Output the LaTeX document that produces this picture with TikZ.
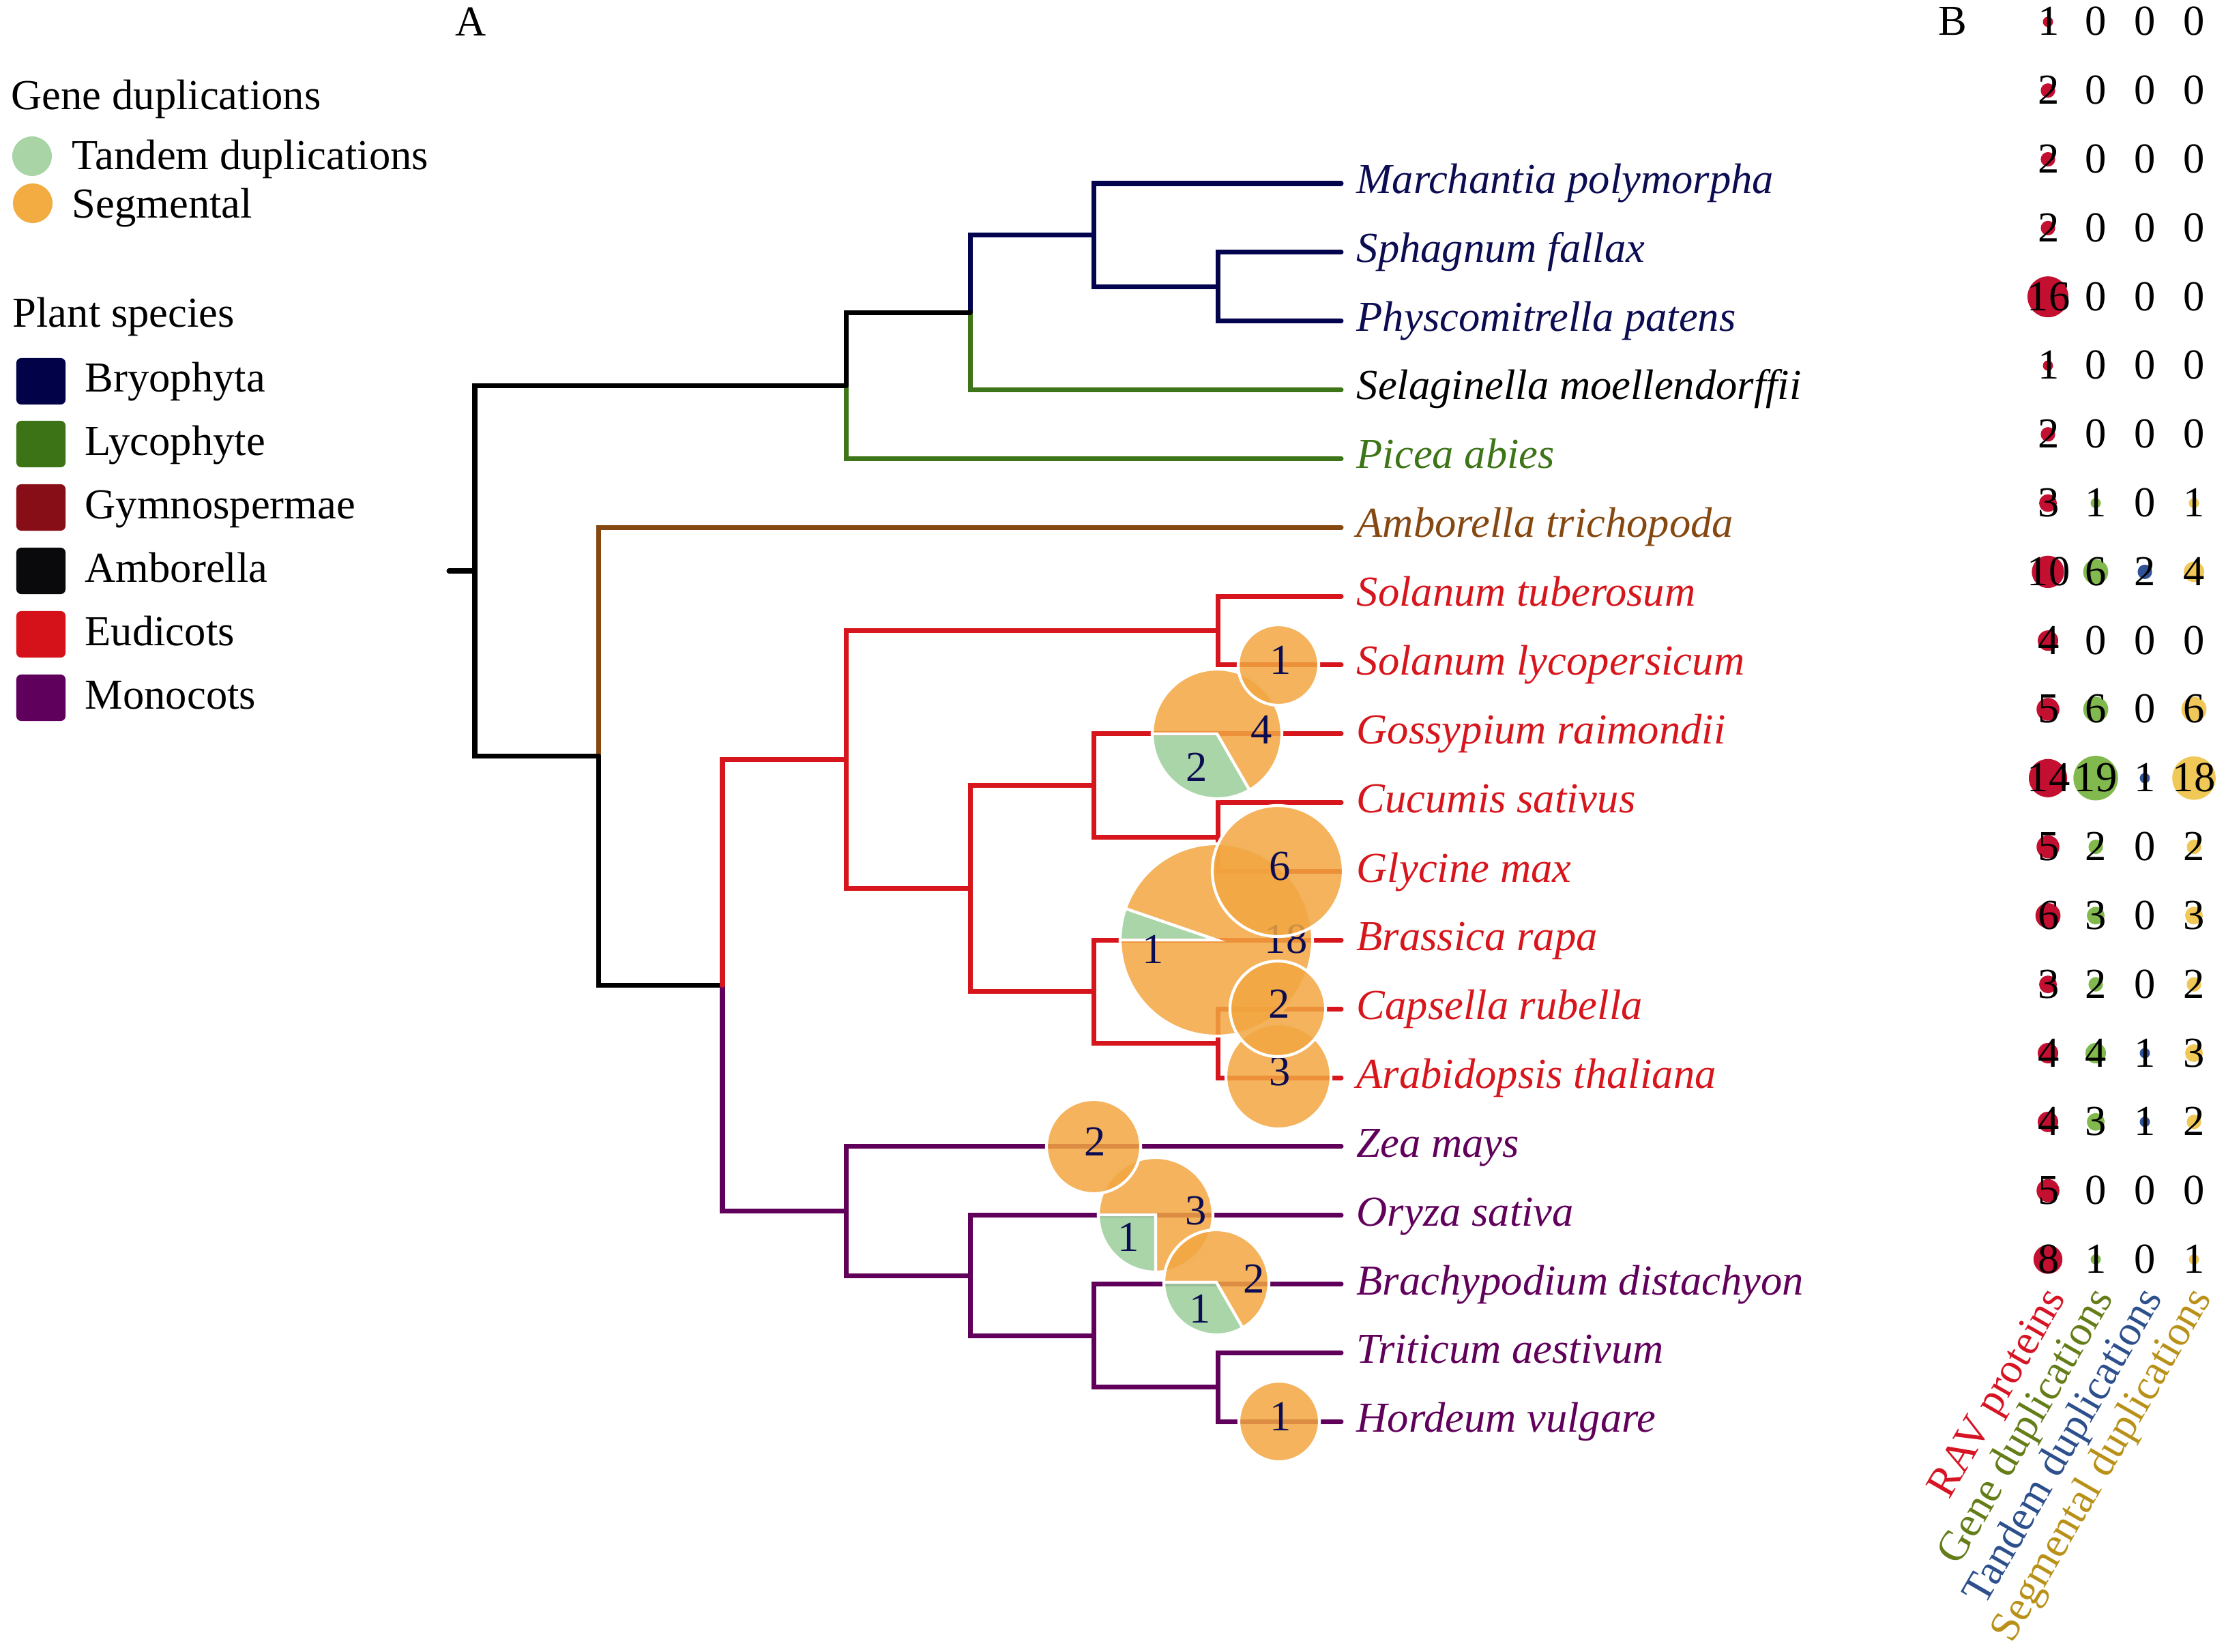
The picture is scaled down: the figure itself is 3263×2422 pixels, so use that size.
\documentclass[tikz,border=0pt]{standalone}
\usepackage{fontspec}
\setmainfont{Liberation Serif}
\definecolor{cnavy}{RGB}{4,4,78}
\definecolor{cgreen}{RGB}{62,117,24}
\definecolor{cbrown}{RGB}{133,72,17}
\definecolor{cred}{RGB}{214,22,28}
\definecolor{cpurple}{RGB}{96,0,90}
\definecolor{tnavy}{RGB}{12,12,82}
\definecolor{pieorange}{RGB}{242,166,64}
\definecolor{pietand}{RGB}{160,208,160}
\definecolor{pietext}{RGB}{12,12,82}
\definecolor{lgbryo}{RGB}{2,2,72}
\definecolor{lglyco}{RGB}{59,115,22}
\definecolor{lggymno}{RGB}{135,14,22}
\definecolor{lgambo}{RGB}{10,10,12}
\definecolor{lgeudi}{RGB}{213,18,26}
\definecolor{lgmono}{RGB}{95,0,92}
\definecolor{lgtand}{RGB}{168,212,166}
\definecolor{lgseg}{RGB}{242,172,66}
\definecolor{bred}{RGB}{195,15,48}
\definecolor{bgreen}{RGB}{130,185,78}
\definecolor{bblue}{RGB}{50,82,150}
\definecolor{byellow}{RGB}{240,200,88}
\definecolor{hred}{RGB}{215,20,35}
\definecolor{hgreen}{RGB}{100,125,25}
\definecolor{hblue}{RGB}{45,80,140}
\definecolor{hgold}{RGB}{185,145,25}
\begin{document}
\begin{tikzpicture}[x=0.01cm,y=-0.01cm,
  every node/.style={inner sep=0pt, font=\fontsize{17.8}{21}\selectfont},
  br/.style={line width=2pt, line cap=round},
  leaflab/.style={anchor=base west, font=\fontsize{17.8}{21}\selectfont\itshape},
  sego/.style={fill=pieorange, fill opacity=0.85, draw=white, line width=1.2pt},
  tand/.style={fill=pietand, fill opacity=0.9, draw=white, line width=1.2pt},
  pnum/.style={text=pietext},
  sqbox/.style={minimum width=0.72cm, minimum height=0.68cm, rounded corners=2pt},
  lgcirc/.style={circle, minimum size=0.58cm},
  lgtext/.style={anchor=base west},
  bnum/.style={anchor=base},
  colhead/.style={anchor=base east, rotate=60}
]
\useasboundingbox (0,0) rectangle (3263,2422);

% ---------- panel labels ----------
\node[anchor=base] (pA) at (690,53) {A};
\node[anchor=base] (pB) at (2862,52) {B};

% ---------- legend ----------
\node[lgtext] (lgGene) at (16,161) {Gene duplications};
\node[lgcirc, fill=lgtand] (lgc1) at (47,229) {};
\node[lgtext] (lgTand) at (105,249) {Tandem duplications};
\node[lgcirc, fill=lgseg] (lgc2) at (48,298) {};
\node[lgtext] (lgSeg) at (105,320) {Segmental};
\node[lgtext] (lgPlant) at (18,480) {Plant species};
\node[sqbox, fill=lgbryo] (sq1) at (60,559) {};
\node[sqbox, fill=lglyco] (sq2) at (60,651) {};
\node[sqbox, fill=lggymno] (sq3) at (60,744) {};
\node[sqbox, fill=lgambo] (sq4) at (60,837) {};
\node[sqbox, fill=lgeudi] (sq5) at (60,930) {};
\node[sqbox, fill=lgmono] (sq6) at (60,1023) {};
\node[lgtext] (lg1) at (124,575) {Bryophyta};
\node[lgtext] (lg2) at (124,668) {Lycophyte};
\node[lgtext] (lg3) at (124,761) {Gymnospermae};
\node[lgtext] (lg4) at (124,854) {Amborella};
\node[lgtext] (lg5) at (124,947) {Eudicots};
\node[lgtext] (lg6) at (124,1040) {Monocots};

% ---------- tree coordinates ----------
\coordinate (stub) at (658,837);
\coordinate (root) at (696,837);
\coordinate (N1) at (1240.5,565.2);
\coordinate (N2) at (1422,458.4);
\coordinate (N3) at (1603.5,344.8);
\coordinate (N4) at (1785,420.5);
\coordinate (N5) at (877.5,1108.8);
\coordinate (N6) at (1059,1444.6);
\coordinate (E1) at (1240.5,1113.6);
\coordinate (E2) at (1785,924.5);
\coordinate (E3) at (1422,1302.8);
\coordinate (E4) at (1603.5,1151.8);
\coordinate (E5) at (1603.5,1453.8);
\coordinate (E6) at (1785,1227.5);
\coordinate (E7) at (1785,1529.5);
\coordinate (M1) at (1240.5,1775.6);
\coordinate (M2) at (1422,1870.1);
\coordinate (M3) at (1603.5,1958.3);
\coordinate (M4) at (1785,2033.5);
\foreach \k in {0,...,18}{
  \coordinate (L\k) at (1966,{269+\k*100.85});
}

% ---------- branches ----------
\draw[br, cgreen] (N1) |- (L4);
\draw[br, cgreen] (N2) |- (L3);
\draw[br, cnavy] (N2) |- (N3);
\draw[br, cnavy] (N3) |- (L0);
\draw[br, cnavy] (N3) |- (N4);
\draw[br, cnavy] (N4) |- (L1);
\draw[br, cnavy] (N4) |- (L2);
\draw[br, cbrown] (N5) |- (L5);
\draw[br, black] (root) |- (N1);
\draw[br, black] (root) |- (N5);
\draw[br, black] (N1) |- (N2);
\draw[br, black] (N5) |- (N6);
\draw[br, black] (stub) -- (root);
\draw[br, cpurple] (N6) |- (M1);
\draw[br, cpurple] (M1) |- (L14);
\draw[br, cpurple] (M1) |- (M2);
\draw[br, cpurple] (M2) |- (L15);
\draw[br, cpurple] (M2) |- (M3);
\draw[br, cpurple] (M3) |- (L16);
\draw[br, cpurple] (M3) |- (M4);
\draw[br, cpurple] (M4) |- (L17);
\draw[br, cpurple] (M4) |- (L18);
\draw[br, cred] (N6) |- (E1);
\draw[br, cred] (E1) |- (E2);
\draw[br, cred] (E2) |- (L6);
\draw[br, cred] (E2) |- (L7);
\draw[br, cred] (E1) |- (E3);
\draw[br, cred] (E3) |- (E4);
\draw[br, cred] (E4) |- (L8);
\draw[br, cred] (E4) |- (E6);
\draw[br, cred] (E6) |- (L9);
\draw[br, cred] (E6) |- (L10);
\draw[br, cred] (E3) |- (E5);
\draw[br, cred] (E5) |- (L11);
\draw[br, cred] (E5) |- (E7);
\draw[br, cred] (E7) |- (L12);
\draw[br, cred] (E7) |- (L13);

% ---------- leaf labels ----------
\node[leaflab, text=tnavy] (t0) at (1988,284) {Marchantia polymorpha};
\node[leaflab, text=tnavy] (t1) at (1988,385) {Sphagnum fallax};
\node[leaflab, text=tnavy] (t2) at (1988,486) {Physcomitrella patens};
\node[leaflab, text=black] (t3) at (1988,586) {Selaginella moellendorffii};
\node[leaflab, text=cgreen] (t4) at (1988,687) {Picea abies};
\node[leaflab, text=cbrown] (t5) at (1988,788) {Amborella trichopoda};
\node[leaflab, text=cred] (t6) at (1988,889) {Solanum tuberosum};
\node[leaflab, text=cred] (t7) at (1988,990) {Solanum lycopersicum};
\node[leaflab, text=cred] (t8) at (1988,1091) {Gossypium raimondii};
\node[leaflab, text=cred] (t9) at (1988,1192) {Cucumis sativus};
\node[leaflab, text=cred] (t10) at (1988,1293) {Glycine max};
\node[leaflab, text=cred] (t11) at (1988,1393) {Brassica rapa};
\node[leaflab, text=cred] (t12) at (1988,1494) {Capsella rubella};
\node[leaflab, text=cred] (t13) at (1988,1595) {Arabidopsis thaliana};
\node[leaflab, text=cpurple] (t14) at (1988,1696) {Zea mays};
\node[leaflab, text=cpurple] (t15) at (1988,1797) {Oryza sativa};
\node[leaflab, text=cpurple] (t16) at (1988,1898) {Brachypodium distachyon};
\node[leaflab, text=cpurple] (t17) at (1988,1998) {Triticum aestivum};
\node[leaflab, text=cpurple] (t18) at (1988,2099) {Hordeum vulgare};

% ---------- pies (largest first) ----------
% Brassica rapa 18 + 1
\filldraw[sego] (1783,1378) -- ++(199:141) arc[start angle=199,end angle=540,radius=141] -- cycle;
\filldraw[tand] (1783,1378) -- ++(180:141) arc[start angle=180,end angle=199,radius=141] -- cycle;
\node[pnum] (pBr1) at (1690,1392) {1};
\node[pnum] (pBr2) at (1885,1377) {18};
% Glycine max 6
\filldraw[sego] (1873,1277) circle[radius=96];
\node[pnum] (pGl) at (1876,1270) {6};
% Gossypium 4 + 2
\filldraw[sego] (1784,1076) -- ++(180:95) arc[start angle=180,end angle=420,radius=95] -- cycle;
\filldraw[tand] (1784,1076) -- ++(60:95) arc[start angle=60,end angle=180,radius=95] -- cycle;
\node[pnum] (pGo1) at (1849,1070) {4};
\node[pnum] (pGo2) at (1754,1125) {2};
% Oryza 3 + 1
\filldraw[sego] (1694,1781) -- ++(180:84) arc[start angle=180,end angle=450,radius=84] -- cycle;
\filldraw[tand] (1694,1781) -- ++(90:84) arc[start angle=90,end angle=180,radius=84] -- cycle;
\node[pnum] (pOr1) at (1753,1775) {3};
\node[pnum] (pOr2) at (1654,1814) {1};
% Arabidopsis 3
\filldraw[sego] (1874,1578) circle[radius=77];
\node[pnum] (pAr) at (1876,1571) {3};
% Brachypodium 2 + 1
\filldraw[sego] (1783,1880) -- ++(180:77) arc[start angle=180,end angle=420,radius=77] -- cycle;
\filldraw[tand] (1783,1880) -- ++(60:77) arc[start angle=60,end angle=180,radius=77] -- cycle;
\node[pnum] (pBd1) at (1838,1875) {2};
\node[pnum] (pBd2) at (1759,1919) {1};
% Capsella 2
\filldraw[sego] (1873,1479) circle[radius=70];
\node[pnum] (pCa) at (1875,1472) {2};
% Zea 2
\filldraw[sego] (1603,1681) circle[radius=69];
\node[pnum] (pZe) at (1605,1674) {2};
% Solanum lycopersicum 1
\filldraw[sego] (1874,975) circle[radius=59];
\node[pnum] (pSl) at (1877,968) {1};
% Hordeum 1
\filldraw[sego] (1875,2084) circle[radius=59];
\node[pnum] (pHo) at (1877,2077) {1};

% ---------- panel B ----------
\foreach \i/\a/\b/\c/\d in {1/1/0/0/0, 2/2/0/0/0, 3/2/0/0/0, 4/2/0/0/0, 5/16/0/0/0,
  6/1/0/0/0, 7/2/0/0/0, 8/3/1/0/1, 9/10/6/2/4, 10/4/0/0/0, 11/5/6/0/6,
  12/14/19/1/18, 13/5/2/0/2, 14/6/3/0/3, 15/3/2/0/2, 16/4/4/1/3,
  17/4/3/1/2, 18/5/0/0/0, 19/8/1/0/1}{
  \pgfmathsetmacro\yy{32+(\i-1)*100.8}
  \ifnum\a>0 \fill[bred] (3002,\yy) circle[radius={7.5*sqrt(\a)}]; \fi
  \ifnum\b>0 \fill[bgreen] (3072,\yy) circle[radius={7.5*sqrt(\b)}]; \fi
  \ifnum\c>0 \fill[bblue] (3144,\yy) circle[radius={7.5*sqrt(\c)}]; \fi
  \ifnum\d>0 \fill[byellow] (3216,\yy) circle[radius={7.5*sqrt(\d)}]; \fi
  \node[bnum] (ra\i) at (3003,\yy+20) {\a};
  \node[bnum] (rb\i) at (3072,\yy+20) {\b};
  \node[bnum] (rc\i) at (3144,\yy+20) {\c};
  \node[bnum] (rd\i) at (3216,\yy+20) {\d};
}
\node[colhead, text=hred] (h1) at (3029,1903) {RAV proteins};
\node[colhead, text=hgreen] (h2) at (3099,1903) {Gene duplications};
\node[colhead, text=hblue] (h3) at (3171,1903) {Tandem duplications};
\node[colhead, text=hgold] (h4) at (3243,1903) {Segmental duplications};
\end{tikzpicture}
\end{document}
